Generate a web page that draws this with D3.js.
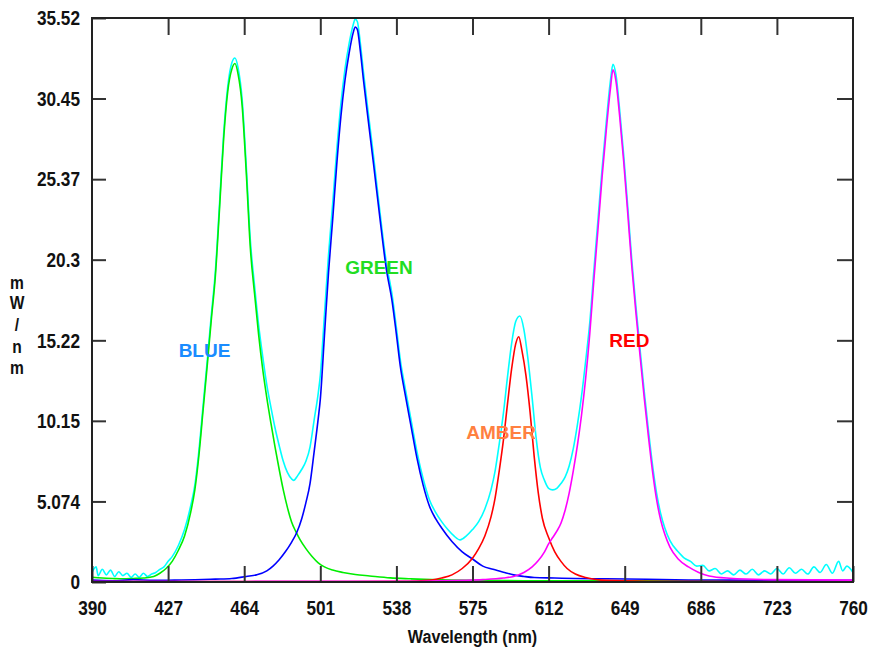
<!DOCTYPE html>
<html>
<head>
<meta charset="utf-8">
<script src="https://cdn.jsdelivr.net/npm/d3@7"></script>
<style>
  body { margin: 0; background: #fff; }
  .tick text { font-family: 'Liberation Sans', Arial, sans-serif; font-weight: bold; font-size: 21px; fill: #111; }
</style>
</head>
<body>
<div id="chart"></div>
<script>
// axis ticks
const xTicks = [390, 427, 464, 501, 538, 575, 612, 649, 686, 723, 760]
const yTicks = [0, 5.074, 10.15, 15.22, 20.3, 25.37, 30.45, 35.52]
const yTickLabels = ['0', '5.074', '10.15', '15.22', '20.3', '25.37', '30.45', '35.52']

// [wavelength nm, mW/nm]
const blueLed = [[390,0.3],[395,0.25],[400,0.22],[405,0.2],[410,0.22],[415,0.25],[420,0.35],[423,0.55],[426,0.85],[429,1.3],[432,2.0],[435,2.9],[438,4.4],[440,5.8],[442,8.0],[444,10.8],[446,13.6],[448,16.5],[450,19.3],[452,23.5],[454,27.9],[456,30.9],[458,32.3],[459.5,32.65],[461,32.0],[463,30.0],[465,25.8],[467,21.0],[469,18.2],[471,15.6],[473,13.4],[475,11.6],[477,10.0],[479,8.5],[481,7.1],[483,5.8],[485,4.7],[487,3.8],[489,3.2],[491,2.7],[494,2.1],[497,1.6],[500,1.2],[503,0.95],[507,0.75],[512,0.6],[518,0.47],[525,0.38],[535,0.26],[545,0.2],[555,0.15],[565,0.12],[580,0.1],[600,0.08],[650,0.07],[700,0.06],[760,0.05]]

const greenLed = [[390,0.12],[400,0.08],[410,0.15],[420,0.1],[430,0.12],[440,0.14],[450,0.18],[458,0.22],[465,0.35],[470,0.45],[475,0.7],[478,1.0],[481,1.4],[484,1.9],[487,2.5],[489.5,3.1],[492,4.0],[494,5.0],[496,6.2],[498,8.2],[500,10.3],[501,11.5],[503,15.5],[505,19.5],[507,22.8],[509,26.3],[511,29.3],[513,31.6],[515,33.3],[517,34.6],[518,34.95],[519,34.8],[520.5,33.4],[522,31.6],[524,29.4],[527,26.2],[530,22.9],[533,19.8],[536,17.6],[538,15.6],[540,13.5],[542,12.0],[545,9.9],[548,7.8],[551,6.1],[554,4.8],[557,4.0],[560,3.4],[565,2.55],[570,1.9],[575,1.45],[580,1.0],[585,0.8],[590,0.62],[595,0.45],[600,0.35],[605,0.28],[615,0.25],[625,0.22],[640,0.2],[660,0.17],[680,0.13],[700,0.12],[730,0.1],[760,0.1]]

const amberLed = [[390,0.03],[500,0.03],[540,0.05],[550,0.08],[555,0.12],[560,0.25],[565,0.45],[570,0.85],[575,1.5],[578,2.1],[581,2.9],[584,4.1],[586,5.3],[588,7.0],[590,8.9],[592,11.2],[594,13.4],[596,15.0],[597.5,15.45],[599,14.6],[601,13.0],[603,10.7],[605,7.9],[607,5.6],[609,4.0],[612,2.8],[615,1.9],[618,1.3],[621,0.85],[625,0.5],[630,0.28],[635,0.16],[640,0.1],[660,0.05],[760,0.03]]

const redLed = [[390,0.03],[550,0.05],[570,0.1],[580,0.15],[590,0.25],[595,0.35],[600,0.6],[604,0.95],[607,1.35],[610,1.9],[612,2.4],[614,2.8],[616,3.2],[618,3.7],[620,4.5],[622,5.6],[624,7.0],[626,8.6],[628,10.5],[630,12.8],[632,15.6],[634,19.0],[636,22.2],[638,25.5],[640,28.4],[642,31.0],[643.3,32.25],[644.8,31.5],[646.5,29.4],[648.5,26.5],[650.5,23.2],[652.5,19.8],[654.5,16.9],[656.5,14.2],[658.5,11.6],[660.5,9.2],[662.5,7.0],[664.5,5.2],[666.5,3.9],[668.5,3.0],[671,2.2],[675,1.45],[680,0.95],[685,0.6],[690,0.38],[700,0.24],[720,0.15],[760,0.12]]

const total = [[390,0.6],[392,0.95],[393,0.4],[395,0.8],[397,0.45],[399,0.75],[401,0.35],[403,0.65],[405,0.4],[407,0.55],[409,0.3],[411,0.5],[413,0.3],[415,0.55],[417,0.35],[419,0.5],[421,0.6],[423,0.8],[425,0.95],[427,1.3],[429,1.6],[432,2.3],[435,3.3],[438,4.8],[440,6.1],[442,8.3],[444,11.1],[446,13.9],[448,16.8],[450,19.6],[452,23.8],[454,28.2],[456,31.2],[458,32.7],[459.5,33.0],[461,32.4],[463,30.4],[465,26.2],[467,21.5],[469,18.7],[471,16.2],[473,14.2],[475,12.4],[477,11.0],[479,9.7],[481,8.6],[483,7.6],[485,6.9],[487,6.5],[488,6.4],[490,6.7],[492,7.1],[494,7.6],[496,8.5],[498,10.2],[500,11.9],[501,13.0],[503,16.8],[505,20.6],[507,23.8],[509,27.2],[511,30.1],[513,32.3],[515,33.9],[517,35.1],[518,35.45],[519,35.3],[520.5,33.9],[522,32.1],[524,29.9],[527,26.7],[530,23.3],[533,20.2],[536,18.0],[538,16.0],[540,13.9],[542,12.4],[545,10.3],[548,8.2],[551,6.5],[554,5.2],[557,4.4],[560,3.8],[563,3.3],[566,2.9],[569,2.65],[572,2.9],[575,3.3],[578,3.8],[581,4.6],[584,5.8],[586,7.0],[588,8.7],[590,10.6],[592,12.9],[594,15.0],[596,16.4],[598,16.75],[600,15.9],[602,14.0],[604,11.6],[606,9.0],[608,7.2],[610,6.4],[612,5.9],[614,5.8],[616,5.9],[618,6.2],[620,6.6],[622,7.3],[624,8.4],[626,9.9],[628,11.7],[630,13.9],[632,16.3],[634,19.6],[636,22.8],[638,26.0],[640,28.9],[642,31.5],[643.3,32.6],[644.8,31.9],[646.5,29.8],[648.5,26.9],[650.5,23.6],[652.5,20.2],[654.5,17.3],[656.5,14.6],[658.5,12.0],[660.5,9.6],[662.5,7.4],[664.5,5.6],[666.5,4.3],[668.5,3.4],[671,2.6],[675,1.9],[678,1.5],[681,1.3],[684,1.0],[687,1.05],[690,0.7],[693,0.85],[696,0.5],[699,0.7],[702,0.45],[705,0.75],[708,0.5],[711,0.8],[714,0.45],[717,0.7],[720,0.5],[723,0.85],[726,0.5],[729,0.9],[732,0.55],[735,0.8],[738,0.5],[741,0.95],[744,0.6],[747,1.1],[750,0.55],[753,1.3],[755,0.7],[757,1.0],[760,0.6]]

// peak labels
const labelNames = ['BLUE', 'GREEN', 'AMBER', 'RED']
const labelAt = [[444.7, 14.6], [529.5, 19.8], [588.9, 9.45], [651.3, 15.2]]
const labelColors = ['#1a8cff', '#22dd22', '#ff8040', '#ff0000']

const width = 869
const height = 651
const margin = { left: 92, top: 18, right: 16, bottom: 69 }
const narrowFont = "'Liberation Sans', Arial, sans-serif"

const svg = d3.select('#chart').append('svg')
  .attr('width', width)
  .attr('height', height)

const x = d3.scaleLinear()
  .domain([390, 760])
  .range([margin.left, width - margin.right])

const y = d3.scaleLinear()
  .domain([0, 35.52])
  .range([height - margin.bottom, margin.top])

const line = d3.line()
  .x(d => x(d[0]))
  .y(d => y(d[1]))
  .curve(d3.curveMonotoneX)

// curves: total first, LEDs on top
const series = [
  { data: total, color: '#00ffff' },
  { data: blueLed, color: '#00ee00' },
  { data: greenLed, color: '#0000ff' },
  { data: amberLed, color: '#ff0000' },
  { data: redLed, color: '#ff00ff' }
]

svg.append('g')
  .selectAll('path')
  .data(series)
  .join('path')
  .attr('d', d => line(d.data))
  .attr('fill', 'none')
  .attr('stroke', d => d.color)
  .attr('stroke-width', 1.6)

// squeeze text horizontally to mimic a narrow face
const squeeze = (sel, k) => sel.each(function () {
  const tx = +this.getAttribute('x') || 0
  this.setAttribute('x', 0)
  this.setAttribute('transform', `translate(${tx},0) scale(${k},1)`)
})

// axes with inward ticks on all four sides
const styleAxis = g => {
  g.select('.domain').remove()
  g.selectAll('.tick line').attr('stroke', '#333').attr('stroke-width', 2)
  g.selectAll('.tick text').call(squeeze, 0.82)
}

svg.append('g')
  .attr('transform', `translate(0, ${y(0)})`)
  .call(d3.axisBottom(x).tickValues(xTicks).tickSizeInner(-16).tickSizeOuter(0).tickPadding(18))
  .call(styleAxis)

svg.append('g')
  .attr('transform', `translate(0, ${y(35.52)})`)
  .call(d3.axisTop(x).tickValues(xTicks.slice(1, -1)).tickSizeInner(-17).tickSizeOuter(0).tickFormat(''))
  .call(styleAxis)

svg.append('g')
  .attr('transform', `translate(${x(390)}, 0)`)
  .call(d3.axisLeft(y).tickValues(yTicks).tickSizeInner(-14).tickSizeOuter(0).tickPadding(12)
    .tickFormat((d, i) => yTickLabels[i]))
  .call(styleAxis)

svg.append('g')
  .attr('transform', `translate(${x(760)}, 0)`)
  .call(d3.axisRight(y).tickValues(yTicks.slice(1, -1)).tickSizeInner(-16).tickSizeOuter(0).tickFormat(''))
  .call(styleAxis)

// frame
svg.append('rect')
  .attr('x', x(390))
  .attr('y', y(35.52))
  .attr('width', x(760) - x(390))
  .attr('height', y(0) - y(35.52))
  .attr('fill', 'none')
  .attr('stroke', '#222')
  .attr('stroke-width', 2)

// axis titles
svg.append('text')
  .attr('x', (x(390) + x(760)) / 2)
  .attr('y', 643)
  .attr('text-anchor', 'middle')
  .style('font-family', narrowFont)
  .style('font-weight', 'bold')
  .style('font-size', '19px')
  .attr('fill', '#111')
  .text('Wavelength (nm)')
  .call(squeeze, 0.85)

const yTitle = ['m', 'W', '/', 'n', 'm']
const yTitleY = [282, 302, 324, 346, 367]
svg.append('g')
  .selectAll('text')
  .data(yTitle)
  .join('text')
  .attr('x', 17)
  .attr('y', (d, i) => yTitleY[i])
  .attr('dy', '0.35em')
  .attr('text-anchor', 'middle')
  .style('font-family', narrowFont)
  .style('font-weight', 'bold')
  .style('font-size', '19px')
  .attr('fill', '#111')
  .text(d => d)
  .call(squeeze, 0.82)

// peak labels
svg.append('g')
  .selectAll('text')
  .data(labelNames)
  .join('text')
  .attr('x', (d, i) => x(labelAt[i][0]))
  .attr('y', (d, i) => y(labelAt[i][1]))
  .attr('dy', '0.35em')
  .attr('text-anchor', 'middle')
  .style('font-family', "'Liberation Sans', Arial, sans-serif")
  .style('font-weight', 'bold')
  .style('font-size', '19px')
  .attr('fill', (d, i) => labelColors[i])
  .text(d => d)
</script>
</body>
</html>
